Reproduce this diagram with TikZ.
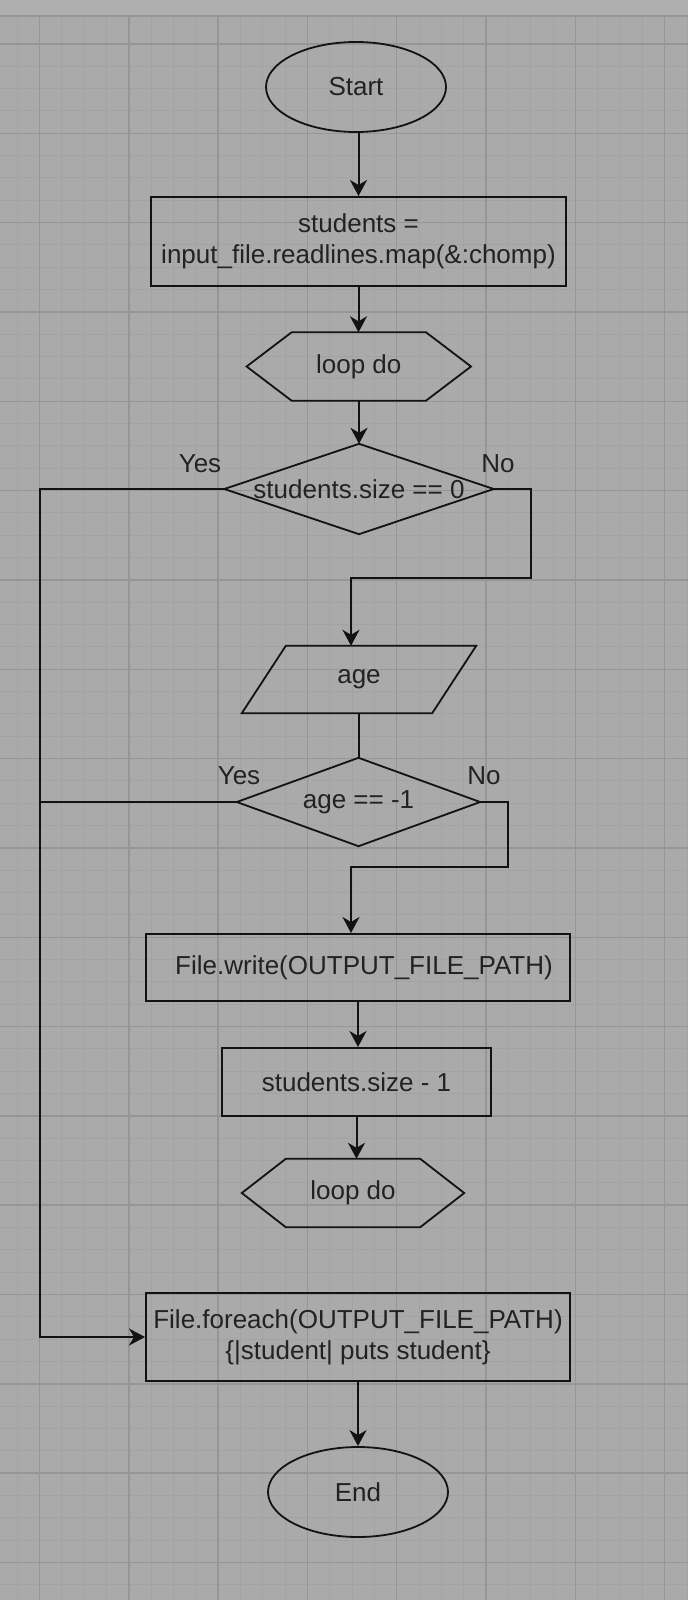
\documentclass[tikz,border=0pt]{standalone}
\usepackage{fontspec}
\setmainfont{Liberation Sans}
\usetikzlibrary{shapes.geometric,arrows.meta}
\definecolor{bg}{RGB}{170,170,170}
\definecolor{bgtop}{RGB}{175,175,175}
\definecolor{gminor}{RGB}{163,163,163}
\definecolor{gmajor}{RGB}{150,150,150}
\definecolor{ink}{RGB}{18,18,18}
\definecolor{txt}{RGB}{34,34,34}
\begin{document}
\begin{tikzpicture}[x=1pt,y=-1pt,
  every node/.style={font=\fontsize{26}{31}\selectfont, text=txt, inner sep=0pt},
  box/.style={draw=ink, line width=2pt, rectangle, align=center},
  term/.style={draw=ink, line width=1.8pt, ellipse, minimum width=180pt, minimum height=90pt},
  ghost/.style={rectangle, align=center},
  outline/.style={draw=ink, line width=1.8pt, line join=miter},
  conn/.style={draw=ink, line width=2pt},
  arr/.style={conn, -{Stealth[length=16pt,width=17pt,inset=5pt]}},
  gridminor/.style={draw=gminor, line width=1pt},
  gridmajor/.style={draw=gmajor, line width=1.4pt},
]
\useasboundingbox (0,0) rectangle (688,1600);
% background
\fill[bg] (0,0) rectangle (688,1600);
\fill[bgtop] (0,0) rectangle (688,16);
% grid
\foreach \k in {-1,...,29} {
  \pgfmathsetmacro\xx{39.5+22.33*\k}
  \draw[gridminor] (\xx,16) -- (\xx,1600);
}
\foreach \k in {0,...,69} {
  \pgfmathsetmacro\yy{44+22.33*\k}
  \draw[gridminor] (0,\yy) -- (688,\yy);
}
\foreach \k in {0,4,...,28} {
  \pgfmathsetmacro\xx{39.5+22.33*\k}
  \draw[gridmajor] (\xx,16) -- (\xx,1600);
}
\foreach \k in {0,4,...,68} {
  \pgfmathsetmacro\yy{44+22.33*\k}
  \draw[gridmajor] (0,\yy) -- (688,\yy);
}
\draw[gridmajor] (0,16) -- (688,16);

% nodes
\node[term] (start) at (356,87) {Start};
\node[box, minimum width=415pt, minimum height=89pt] (box1) at (358.5,241.5)
  {students =\\input\_file.readlines.map(\&:chomp)};
\node[ghost, minimum width=224pt, minimum height=68pt] (loop1) at (358.8,366.5) {loop do};
\draw[outline] (loop1.west) -- ([xshift=45pt]loop1.north west) -- ([xshift=-45pt]loop1.north east)
  -- (loop1.east) -- ([xshift=-45pt]loop1.south east) -- ([xshift=45pt]loop1.south west) -- cycle;
\node[ghost, minimum width=269pt, minimum height=90pt] (d1) at (359,489) {students.size == 0};
\draw[outline] (d1.west) -- (d1.north) -- (d1.east) -- (d1.south) -- cycle;
\node (yes1) at (200,464) {Yes};
\node (no1) at (498,464) {No};
\node[ghost, minimum width=234pt, minimum height=67pt] (para) at (359,679.5) {age};
\draw[outline] (para.south west) -- ([xshift=44pt]para.north west) -- (para.north east)
  -- ([xshift=-44pt]para.south east) -- cycle;
\node[ghost, minimum width=243pt, minimum height=88pt] (d2) at (358.5,802) {age == -1};
\draw[outline] (d2.west) -- (d2.north) -- (d2.east) -- (d2.south) -- cycle;
\node (yes2) at (239,776) {Yes};
\node (no2) at (484,776) {No};
\node[box, minimum width=424pt, minimum height=67pt] (write) at (358,967.5)
  {\hspace*{12pt}File.write(OUTPUT\_FILE\_PATH)};
\node[box, minimum width=269pt, minimum height=68pt] (sz) at (356.5,1082) {students.size - 1};
\node[ghost, minimum width=222pt, minimum height=68pt] (loop2) at (353,1193) {loop do};
\draw[outline] (loop2.west) -- ([xshift=44pt]loop2.north west) -- ([xshift=-44pt]loop2.north east)
  -- (loop2.east) -- ([xshift=-44pt]loop2.south east) -- ([xshift=44pt]loop2.south west) -- cycle;
\node[box, minimum width=424pt, minimum height=88pt] (fe) at (358,1337)
  {File.foreach(OUTPUT\_FILE\_PATH)\\\{|student| puts student\}};
\node[term] (end) at (358,1492) {End};

% connectors
\coordinate (lx) at (39.5,489);
\coordinate (n1a) at (531,578);
\coordinate (n1b) at (351,578);
\coordinate (n2a) at (508,867);
\coordinate (n2b) at (351,867);
\draw[arr] (start.south -| box1.north) -- (box1.north);
\draw[arr] (box1.south) -- (box1.south |- loop1.north);
\draw[arr] (loop1.south -| d1.north) -- (d1.north);
\draw[arr] (d1.west) -- (lx) |- (fe.west);
\draw[conn] (d2.west) -- (d2.west -| lx);
\draw[arr] (d1.east) -| (n1a) -- (n1b) -- (n1b |- para.north);
\draw[conn] (para.south -| d2.north) -- (d2.north);
\draw[arr] (d2.east) -| (n2a) -- (n2b) -- (n2b |- write.north);
\draw[arr] (write.south) -- (write.south |- sz.north);
\draw[arr] (sz.south) -- (sz.south |- loop2.north);
\draw[arr] (fe.south) -- (fe.south |- end.north);
\end{tikzpicture}
\end{document}
